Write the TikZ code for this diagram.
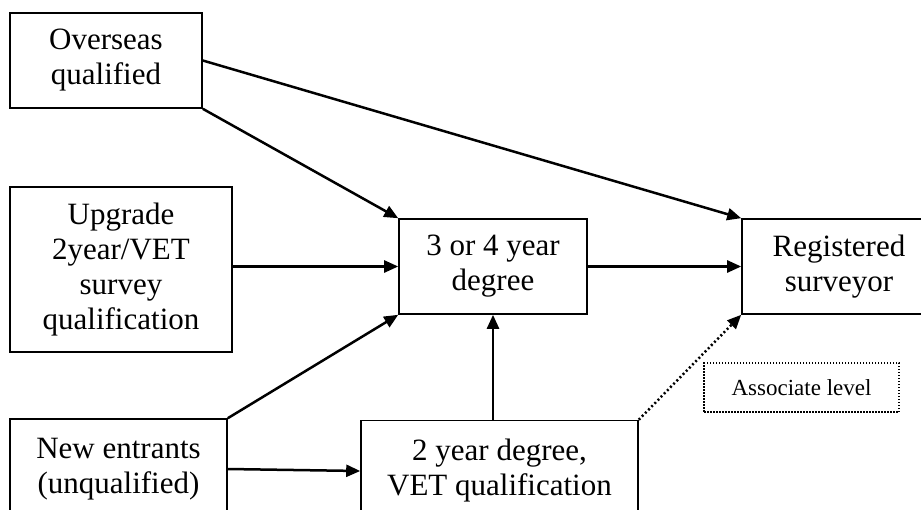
\documentclass[tikz,border=0pt]{standalone}
\usepackage{fontspec}
\setmainfont{Liberation Serif}
\usetikzlibrary{arrows.meta}

\begin{document}
\begin{tikzpicture}[x=1pt, y=-1pt,
		box/.style={draw, line width=1.6pt, align=center, inner sep=0pt,
			font=\fontsize{31}{35}\selectfont},
		assocbox/.style={draw, line width=1.5pt, dash pattern=on 1.5pt off 1.5pt,
			inner sep=0pt, font=\fontsize{23}{27}\selectfont},
		link/.style={line width=2.5pt, ->},
		>={Triangle[length=14pt, width=12pt]}]
	\useasboundingbox (0,0) rectangle (921,509);
	\clip (0,0) rectangle (921,509);
	% left column
	\node[box, minimum width=192pt, minimum height=95pt] (over) at (106,60.5) {Overseas\\qualified};
	\node[box, minimum width=222pt, minimum height=165pt] (upg) at (121,269.5) {Upgrade\\2year/VET\\survey\\qualification};
	\node[box, minimum width=217pt, minimum height=100pt] (newe) at (118.5,469) {New entrants\\(unqualified)};
	% middle and right
	\node[box, minimum width=188pt, minimum height=95pt] (deg) at (493,266.5) {3 or 4 year\\degree};
	\node[box, minimum width=277pt, minimum height=101pt] (two) at (499.5,471) {2 year degree,\\VET qualification};
	\node[box, minimum width=194pt, minimum height=95pt] (reg) at (839,266.5) {Registered\\surveyor};
	\node[assocbox, minimum width=195pt, minimum height=49pt] (assoc) at (801.5,387.5) {Associate level};
	% connectors
	\draw[link] (over.east) -- (reg.north west);
	\draw[link] (over.south east) -- (deg.north west);
	\draw[link] (upg.east |- deg.west) -- (deg.west);
	\draw[link] (newe.north east) -- (deg.south west);
	\draw[link] (newe.east) -- (two.west);
	\draw[link] (deg.east) -- (reg.west);
	\draw[link] (deg.south |- two.north) -- (deg.south);
	\draw[link, dash pattern=on 2pt off 2.5pt] (two.north east) -- (reg.south west);
\end{tikzpicture}
\end{document}
